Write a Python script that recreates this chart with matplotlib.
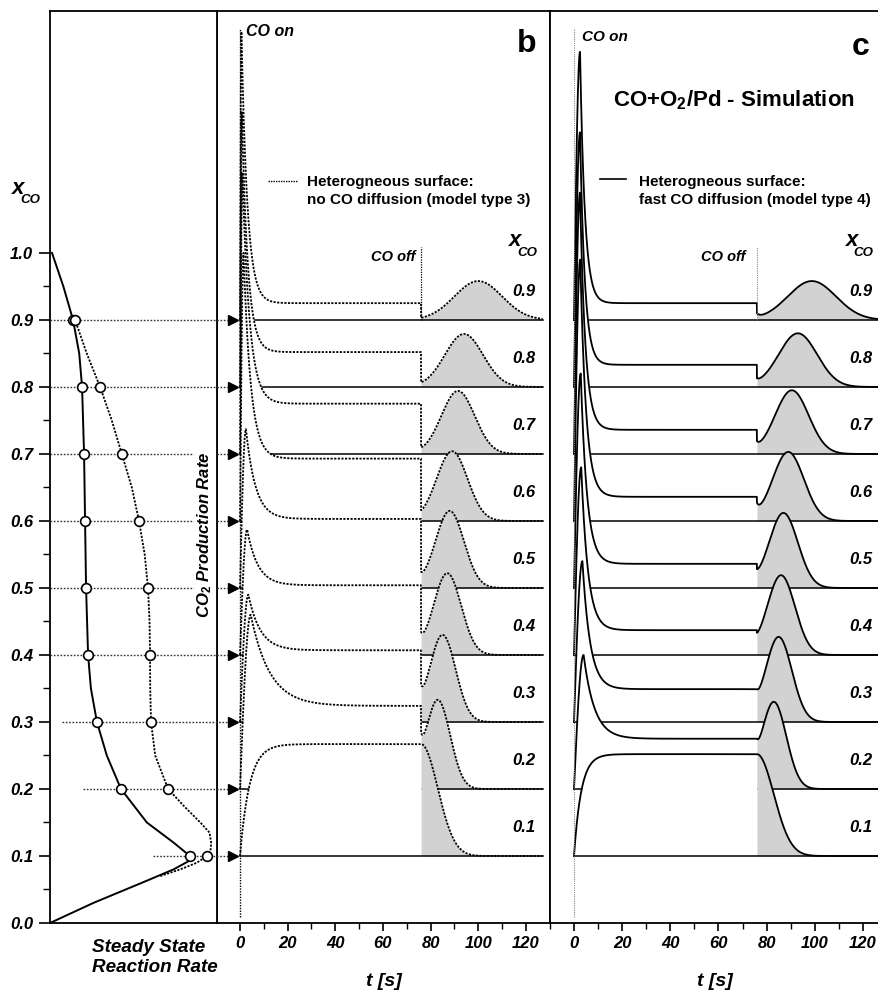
import numpy as np
import matplotlib.pyplot as plt
from matplotlib.lines import Line2D
from matplotlib.ticker import MultipleLocator

plt.rcParams['font.family'] = ['Liberation Sans', 'DejaVu Sans']
plt.rcParams['mathtext.fontset'] = 'custom'
plt.rcParams['mathtext.rm'] = 'Liberation Sans:bold'
plt.rcParams['mathtext.it'] = 'Liberation Sans:italic:bold'
plt.rcParams['mathtext.bf'] = 'Liberation Sans:bold'

# ---------------- data ----------------
xco_levels = [0.9, 0.8, 0.7, 0.6, 0.5, 0.4, 0.3, 0.2, 0.1]

# panel a: steady state rate vs x_CO
solid_xco = [0.0, 0.03, 0.06, 0.08, 0.095, 0.1, 0.12, 0.15, 0.2, 0.25, 0.3, 0.35,
             0.4, 0.5, 0.6, 0.7, 0.8, 0.85, 0.9, 0.95, 1.0]
solid_rate = [0.0, 0.26, 0.55, 0.74, 0.85, 0.838, 0.74, 0.58, 0.425, 0.34, 0.281, 0.245,
              0.228, 0.216, 0.21, 0.204, 0.192, 0.175, 0.138, 0.08, 0.012]
dotted_xco = [0.07, 0.08, 0.09, 0.1, 0.11, 0.12, 0.135, 0.15, 0.175, 0.2, 0.25, 0.3,
              0.35, 0.4, 0.45, 0.5, 0.55, 0.6, 0.65, 0.7, 0.75, 0.8, 0.85, 0.9]
dotted_rate = [0.66, 0.78, 0.88, 0.94, 0.962, 0.965, 0.955, 0.9, 0.8, 0.707, 0.63, 0.605,
               0.6, 0.599, 0.596, 0.587, 0.567, 0.533, 0.49, 0.43, 0.37, 0.30, 0.22, 0.15]
solid_pts = [0.138, 0.192, 0.204, 0.21, 0.216, 0.228, 0.281, 0.425, 0.838]
dotted_pts = [0.15, 0.30, 0.43, 0.533, 0.587, 0.599, 0.605, 0.707, 0.94]
arrow_start = [0.0, 0.0, 0.0, 0.0, 0.0, 0.0, 0.072, 0.2, 0.617]

# transients, heights in units of the x_CO step (0.1)
t_off = 76.0
b_hump_t = [0.6, 0.8, 1.0, 1.5, 2.5, 3.0, 3.5, 4.5]
b_hump_h = [4.3, 4.1, 4.2, 4.0, 2.37, 1.87, 1.9, 2.6]
b_tau = [2.5, 2.5, 3.0, 3.0, 4.0, 4.5, 5.0, 8.0]
b_plateau = [0.25, 0.52, 0.75, 0.93, 1.03, 1.04, 1.07, 1.24, 1.67]
b_dip = [0.03, 0.07, 0.10, 0.16, 0.24, 0.34, 0.55, 0.84]
b_bump_t = [100, 94, 91.5, 89, 88, 87, 85, 83]
b_bump_h = [0.58, 0.79, 0.94, 1.04, 1.15, 1.22, 1.30, 1.33]
b_bump_w = [10, 8, 7, 6.5, 6, 5.8, 5.5, 5.2]
b_low_rise, b_low_fall = 4.0, 7.0

c_hump_t = [2.5, 2.5, 2.5, 2.6, 2.8, 3.0, 3.5, 4.0]
c_hump_h = [4.0, 3.8, 3.9, 3.9, 3.2, 2.8, 2.4, 2.0]
c_tau = [2.0, 2.0, 2.2, 2.4, 2.6, 2.8, 3.2, 4.5]
c_plateau = [0.25, 0.33, 0.36, 0.36, 0.36, 0.37, 0.49, 0.75, 1.52]
c_dip = [0.10, 0.13, 0.19, 0.27, 0.28, 0.33, 0.49, 0.75]
c_bump_t = [98.8, 93, 90.5, 89, 87, 86, 85, 83]
c_bump_h = [0.58, 0.80, 0.95, 1.03, 1.12, 1.19, 1.27, 1.30]
c_bump_w = [10, 8, 7, 6.5, 6, 5.8, 5.5, 5.2]
c_low_rise, c_low_fall = 3.0, 7.0

time_ticks = [0, 20, 40, 60, 80, 100, 120]

# ---------------- helpers ----------------
W, H = 879, 992
STEP = 0.1
YTOP = 1.361
t = np.linspace(0, 127, 2541)


def transient(hump_t, hump_h, tau, plateau, dip, bump_t, bump_h, bump_w):
    rise = hump_h * np.sin(0.5 * np.pi * np.clip(t / hump_t, 0, 1))
    decay = plateau + (hump_h - plateau) * np.exp(-(t - hump_t) / tau)
    on = np.where(t < hump_t, rise, decay)
    g = bump_h * np.exp(-0.5 * ((t - bump_t) / bump_w) ** 2)
    g0 = bump_h * np.exp(-0.5 * ((t_off - bump_t) / bump_w) ** 2)
    off = g + (dip - g0) * np.exp(-(t - t_off) / 1.2)
    return np.where(t < t_off, on, off)


def low_transient(plateau, rise, fall):
    on = plateau * (1 - np.exp(-t / rise))
    off = plateau * np.exp(-0.5 * ((t - t_off) / fall) ** 2)
    return np.where(t < t_off, on, off)


def ftext(x, y, s, **kw):
    fig.text(x / W, 1 - y / H, s, **kw)


def draw_panel(ax, hump_t, hump_h, tau, plateau, dip, bump_t, bump_h, bump_w,
               low_rise, low_fall, dotted):
    ls = (0, (1.2, 0.8)) if dotted else '-'
    for i, lev in enumerate(xco_levels):
        if i < len(hump_t):
            y = transient(hump_t[i], hump_h[i], tau[i], plateau[i], dip[i],
                          bump_t[i], bump_h[i], bump_w[i])
        else:
            y = low_transient(plateau[i], low_rise, low_fall)
        top = lev + STEP * y
        on = t <= t_off
        off = t >= t_off
        ax.fill_between(t[on], lev, top[on], color='white', lw=0, zorder=10 + 2 * i)
        ax.fill_between(t[off], lev, top[off], color='#d2d2d2', lw=0, zorder=10 + 2 * i)
        ax.plot([0, 127], [lev, lev], color='k', lw=1.1, zorder=11 + 2 * i)
        ax.plot(np.r_[0, t], np.r_[lev, top], color='k', ls=ls, lw=1.3, zorder=40)
        ax.text(t_off + 43, lev + 0.043, f'{lev:.1f}',
                ha='center', va='center', fontsize=12, fontweight='bold',
                fontstyle='italic', zorder=45)
    ax.set_xlim(-9.65, 130.1) if dotted else ax.set_xlim(-9.97, 126.7)
    ax.set_ylim(0, YTOP)
    ax.set_yticks([])
    ax.set_xticks(time_ticks)
    ax.set_xticklabels([str(v) for v in time_ticks], fontsize=12,
                       fontweight='bold', fontstyle='italic')
    ax.xaxis.set_minor_locator(MultipleLocator(10))
    ax.tick_params(axis='x', which='major', direction='out', length=6, width=1.2, pad=3)
    ax.tick_params(axis='x', which='minor', direction='out', length=4, width=1.0)
    for sp in ax.spines.values():
        sp.set_linewidth(1.3)
    ax.set_xlabel('t [s]', fontsize=14, fontweight='bold', fontstyle='italic', labelpad=16)


# ---------------- figure ----------------
fig = plt.figure(figsize=(W / 100, H / 100), dpi=100)
bottom = 1 - 923 / H
height = 912 / H
ax_a = fig.add_axes([50 / W, bottom, 167 / W, height])
ax_b = fig.add_axes([217 / W, bottom, 333 / W, height])
ax_c = fig.add_axes([550 / W, bottom, 329 / W, height])
ax_a.set_zorder(5)

# panel a
ax_a.plot(solid_rate, solid_xco, color='k', lw=1.4, zorder=4)
ax_a.plot(dotted_rate, dotted_xco, color='k', ls=(0, (1.2, 0.8)), lw=1.3, zorder=4)
for i, lev in enumerate(xco_levels):
    ax_a.plot([arrow_start[i], 1.097], [lev, lev], color='#333333', ls=(0, (1.2, 1.2)),
              lw=1.0, clip_on=False, zorder=3)
    ax_a.plot(1.097, lev, marker='>', ms=7, color='k', clip_on=False, zorder=3)
ax_a.plot(solid_pts, xco_levels, 'o', mfc='white', mec='k', ms=7, mew=1.2, zorder=6)
ax_a.plot(dotted_pts, xco_levels, 'o', mfc='white', mec='k', ms=7, mew=1.2, zorder=6)
ax_a.set_xlim(0, 1)
ax_a.set_ylim(0, YTOP)
ax_a.set_xticks([])
ax_a.set_yticks(np.arange(0, 1.01, 0.1))
ax_a.set_yticklabels([f'{v:.1f}' for v in np.arange(0, 1.01, 0.1)], fontsize=12,
                     fontweight='bold', fontstyle='italic')
ax_a.set_yticks(np.arange(0.05, 1.0, 0.1), minor=True)
ax_a.tick_params(axis='y', which='major', direction='out', length=8, width=1.2, pad=4)
ax_a.tick_params(axis='y', which='minor', direction='out', length=5, width=1.0)
for sp in ax_a.spines.values():
    sp.set_linewidth(1.3)
ax_a.text(0.928, 0.58, r'CO$_\mathit{2}$ Production Rate', rotation=90, ha='center',
          va='center', fontsize=12, fontweight='bold', fontstyle='italic', zorder=8,
          bbox=dict(facecolor='white', edgecolor='none', pad=1), clip_on=False)

# panels b and c
draw_panel(ax_b, b_hump_t, b_hump_h, b_tau, b_plateau, b_dip, b_bump_t, b_bump_h,
           b_bump_w, b_low_rise, b_low_fall, dotted=True)
draw_panel(ax_c, c_hump_t, c_hump_h, c_tau, c_plateau, c_dip, c_bump_t, c_bump_h,
           c_bump_w, c_low_rise, c_low_fall, dotted=False)

# CO on / CO off markers
ax_b.plot([0, 0], [0.009, 1.336], color='k', ls=(0, (1, 1)), lw=1.0, zorder=42)
ax_b.plot([t_off, t_off], [0.9, 1.009], color='k', ls=(0, (1, 1)), lw=0.9, zorder=42)
ax_c.plot([0, 0], [0.009, 1.336], color='#888888', ls=(0, (1, 1)), lw=0.8, zorder=42)
ax_c.plot([t_off, t_off], [0.9, 1.009], color='#888888', ls=(0, (1, 1)), lw=0.8, zorder=42)

# texts
bi = dict(fontweight='bold', fontstyle='italic')
ftext(192, 47, 'a', fontsize=23, fontweight='bold', ha='center', va='center')
ftext(527, 44, 'b', fontsize=23, fontweight='bold', ha='center', va='center')
ftext(861, 47, 'c', fontsize=23, fontweight='bold', ha='center', va='center')
ftext(117, 264, '415 K', fontsize=13.5, fontweight='bold', ha='center', va='center')
ftext(12, 188, 'x', fontsize=16, ha='left', va='center', **bi)
ftext(20, 200, 'CO', fontsize=9.5, ha='left', va='center', **bi)
ftext(92, 948, 'Steady State', fontsize=13.6, ha='left', va='center', **bi)
ftext(92, 968, 'Reaction Rate', fontsize=13.6, ha='left', va='center', **bi)

ftext(246, 32, 'CO on', fontsize=11.5, ha='left', va='center', **bi)
ftext(582, 37, 'CO on', fontsize=11, ha='left', va='center', **bi)
ftext(416, 257, 'CO off', fontsize=10.5, ha='right', va='center', **bi)
ftext(746, 257, 'CO off', fontsize=10.5, ha='right', va='center', **bi)
ftext(509, 240, 'x', fontsize=16, ha='left', va='center', **bi)
ftext(517, 253, 'CO', fontsize=9.5, ha='left', va='center', **bi)
ftext(846, 240, 'x', fontsize=16, ha='left', va='center', **bi)
ftext(853, 253, 'CO', fontsize=9.5, ha='left', va='center', **bi)

ftext(307, 182, 'Heterogneous surface:', fontsize=11, fontweight='bold', ha='left', va='center')
ftext(307, 200, 'no CO diffusion (model type 3)', fontsize=11, fontweight='bold',
      ha='left', va='center')
fig.add_artist(Line2D([268 / W, 298 / W], [1 - 181 / H, 1 - 181 / H], color='k',
                      ls=(0, (1, 0.8)), lw=1.0))
ftext(639, 182, 'Heterogneous surface:', fontsize=11, fontweight='bold', ha='left', va='center')
ftext(639, 200, 'fast CO diffusion (model type 4)', fontsize=11, fontweight='bold',
      ha='left', va='center')
fig.add_artist(Line2D([600 / W, 626 / W], [1 - 179 / H, 1 - 179 / H], color='k', lw=1.2))
ftext(613, 100, r'CO+O$_\mathrm{2}$/Pd - Simulation', fontsize=16, fontweight='bold',
      ha='left', va='center')

fig.savefig('out.png', dpi=100)
